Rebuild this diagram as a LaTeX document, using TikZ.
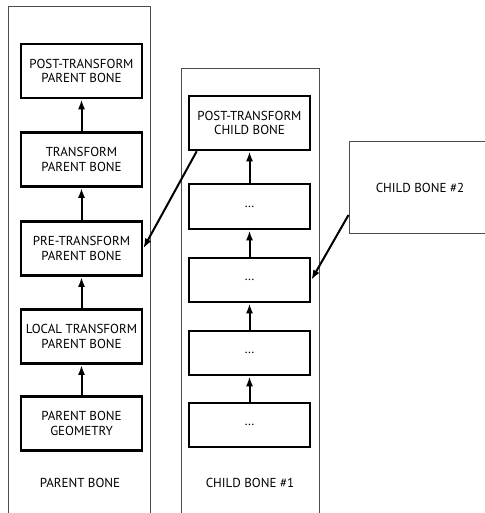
\documentclass[tikz,border=0pt]{standalone}
\usepackage{fontspec}
\setmainfont{PT Sans}
\usetikzlibrary{arrows.meta}

\begin{document}
\begin{tikzpicture}[x=1pt, y=-1pt,
    bonebox/.style={draw, line width=2.6pt, minimum width=121pt, inner sep=0pt, align=center, font=\fontsize{13}{14.5}\selectfont},
    flow/.style={line width=2pt, -{Latex[length=10pt,width=7pt]}},
    frame/.style={draw=black!70, line width=1pt},
    caption/.style={font=\fontsize{13}{14.5}\selectfont}]

        % page size, pixel units (y grows downwards)
        \useasboundingbox (0,0) rectangle (484,513);

        % parent bone column
        \draw[frame] (8,520) -- (8,7) -- (150,7) -- (150,520);
        \node[bonebox, minimum height=54pt] (post) at (81.5,71) {POST-TRANSFORM\\PARENT BONE};
        \node[bonebox, minimum height=54pt] (trans) at (81.5,159.5) {TRANSFORM\\PARENT BONE};
        \node[bonebox, minimum height=54pt] (pre) at (81.5,248.5) {PRE-TRANSFORM\\PARENT BONE};
        \node[bonebox, minimum height=54pt] (local) at (81.5,336.5) {LOCAL TRANSFORM\\PARENT BONE};
        \node[bonebox, minimum height=54pt] (geom) at (81.5,423.5) {PARENT BONE\\GEOMETRY};
        \node[caption] (parentlbl) at (80,483) {PARENT BONE};

        \draw[flow] (geom) -- (local);
        \draw[flow] (local) -- (pre);
        \draw[flow] (pre) -- (trans);
        \draw[flow] (trans) -- (post);

        % child bone #1 column
        \draw[frame] (181,520) -- (181,69) -- (319,69) -- (319,520);
        \node[bonebox, minimum height=54pt] (cpost) at (249.5,123) {POST-TRANSFORM\\CHILD BONE};
        \node[bonebox, minimum height=45pt] (cb) at (249.5,206.5) {\dots};
        \node[bonebox, minimum height=44pt] (cc) at (249.5,280) {\dots};
        \node[bonebox, minimum height=44pt] (cd) at (249.5,353) {\dots};
        \node[bonebox, minimum height=44pt] (ce) at (249.5,425) {\dots};
        \node[caption] (childlbl) at (250,483) {CHILD BONE \#1};

        \draw[flow] (ce) -- (cd);
        \draw[flow] (cd) -- (cc);
        \draw[flow] (cc) -- (cb);
        \draw[flow] (cb) -- (cpost);

        % child bone #2, cut by the page edge
        \node[frame, minimum width=142pt, minimum height=91pt, caption] (child2) at (420,187.5) {CHILD BONE \#2};

        \draw[flow] ([xshift=9pt]cpost.south west) -- (pre.east);
        \draw[flow] ([yshift=-27.5pt]child2.west) -- (cc.east);
    \end{tikzpicture}
\end{document}
